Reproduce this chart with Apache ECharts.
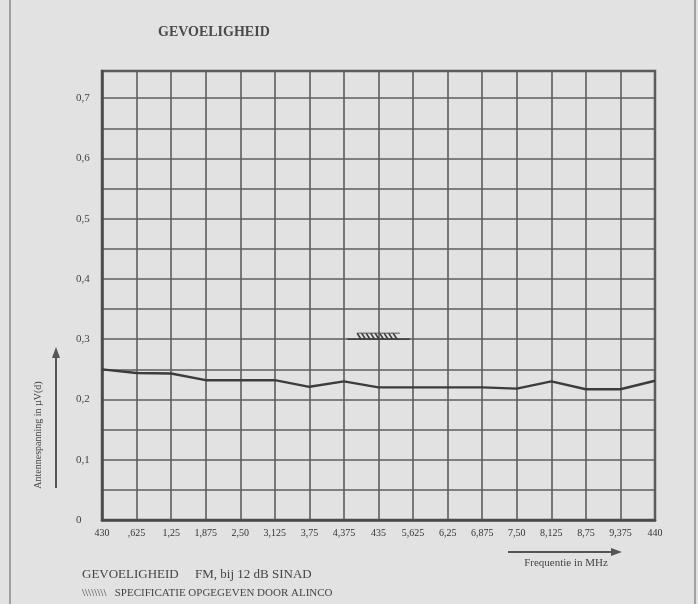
<!DOCTYPE html>
<html>
<head>
<meta charset="utf-8">
<script src="https://cdn.jsdelivr.net/npm/echarts@6/dist/echarts.min.js"></script>
<style>
  html, body { margin: 0; padding: 0; background: #e2e2e2; }
  #chart { width: 698px; height: 604px; }
</style>
</head>
<body>
<div id="chart"></div>
<script>
// frequentie-stappen (430 .. 440 MHz, 0,625 MHz per hokje)
var xLabels = ['430', ',625', '1,25', '1,875', '2,50', '3,125', '3,75', '4,375', '435',
  '5,625', '6,25', '6,875', '7,50', '8,125', '8,75', '9,375', '440'];
var yLabels = ['0', '0,1', '0,2', '0,3', '0,4', '0,5', '0,6', '0,7'];
// gemeten gevoeligheid in uV per frequentiestap
var sensValues = [0.25, 0.244, 0.243, 0.232, 0.232, 0.232, 0.221, 0.23, 0.22,
  0.22, 0.22, 0.22, 0.218, 0.23, 0.217, 0.217, 0.231];
// specificatie Alinco (gearceerd blokje)
var specX = [7.38, 8.62];
var specLineX = [7.1, 8.9];
var specY = [0.3, 0.31];

var serif = '"Liberation Serif", "DejaVu Serif", serif';
var ink = '#3c3c3c';

var chart = echarts.init(document.getElementById('chart'));

var lineData = sensValues.map(function (v, i) { return [i, v]; });

var option = {
  backgroundColor: '#e2e2e2',
  animation: false,
  grid: {
    left: 102, right: 43, top: 71, bottom: 84,
    show: true, borderColor: '#555', borderWidth: 2.5, backgroundColor: 'transparent'
  },
  xAxis: {
    type: 'value', min: 0, max: 16, interval: 1,
    axisLine: { show: true, lineStyle: { color: '#4a4a4a', width: 2.5 } },
    axisTick: { show: false },
    splitLine: { show: true, lineStyle: { color: '#5e5e5e', width: 1.6 } },
    axisLabel: {
      margin: 8, fontFamily: serif, fontSize: 10, color: '#333',
      formatter: function (v) { return xLabels[v] || ''; }
    }
  },
  yAxis: {
    type: 'value', min: 0, max: 0.745, interval: 0.05,
    axisLine: { show: true, lineStyle: { color: '#4a4a4a', width: 2.5 } },
    axisTick: { show: false },
    splitLine: { show: true, lineStyle: { color: '#5e5e5e', width: 1.6 } },
    axisLabel: {
      margin: 26, align: 'left', fontFamily: serif, fontSize: 11, color: '#444',
      formatter: function (v) {
        var n = Math.round(v * 100);
        if (n % 10 !== 0) return '';
        return yLabels[n / 10] || '';
      }
    }
  },
  series: [
    {
      type: 'line',
      data: lineData,
      symbol: 'none',
      lineStyle: { color: ink, width: 2.4 },
      z: 5
    },
    {
      type: 'custom',
      data: [[specX[0], specX[1], specY[0], specY[1], specLineX[0], specLineX[1]]],
      encode: { x: [0, 1], y: [2, 3] },
      renderItem: function (params, api) {
        var p0 = api.coord([api.value(0), api.value(2)]);
        var p1 = api.coord([api.value(1), api.value(3)]);
        var b0 = api.coord([api.value(4), api.value(2)]);
        var b1 = api.coord([api.value(5), api.value(2)]);
        var children = [{
          type: 'line',
          shape: { x1: b0[0], y1: b0[1], x2: b1[0], y2: b1[1] },
          style: { stroke: '#444', lineWidth: 1.8 }
        }];
        var step = 4.5;
        for (var x = p0[0]; x + 4 <= p1[0]; x += step) {
          children.push({
            type: 'line',
            shape: { x1: x, y1: p1[1], x2: x + 4, y2: p0[1] },
            style: { stroke: '#3a3a3a', lineWidth: 1.6 }
          });
        }
        children.push({
          type: 'line',
          shape: { x1: p0[0], y1: p1[1], x2: p1[0], y2: p1[1] },
          style: { stroke: '#555', lineWidth: 1 }
        });
        return { type: 'group', children: children };
      },
      z: 6
    }
  ],
  graphic: [
    // paginaranden
    { type: 'line', shape: { x1: 10, y1: 0, x2: 10, y2: 604 }, style: { stroke: '#8a8a8a', lineWidth: 1.5 } },
    { type: 'line', shape: { x1: 695, y1: 0, x2: 695, y2: 604 }, style: { stroke: '#8a8a8a', lineWidth: 1.5 } },
    // titel
    { type: 'text', left: 158, top: 25, style: { text: 'GEVOELIGHEID', font: 'bold 14px ' + serif, fill: '#4a4a4a' } },
    // y-as naam en pijl
    {
      type: 'text', x: 38, y: 435, rotation: Math.PI / 2,
      style: { text: 'Antennespanning in µV(d)', font: '10px ' + serif, fill: '#444', textAlign: 'center', textVerticalAlign: 'middle' }
    },
    { type: 'line', shape: { x1: 56, y1: 488, x2: 56, y2: 356 }, style: { stroke: '#555', lineWidth: 2 } },
    { type: 'polygon', shape: { points: [[56, 347], [52, 358], [60, 358]] }, style: { fill: '#555' } },
    // x-as pijl en naam
    { type: 'line', shape: { x1: 508, y1: 552, x2: 612, y2: 552 }, style: { stroke: '#555', lineWidth: 2 } },
    { type: 'polygon', shape: { points: [[622, 552], [611, 548], [611, 556]] }, style: { fill: '#555' } },
    {
      type: 'text', x: 566, y: 563,
      style: { text: 'Frequentie in MHz', font: '11px ' + serif, fill: '#444', textAlign: 'center', textVerticalAlign: 'middle' }
    },
    // onderschriften
    {
      type: 'text', x: 82, y: 575,
      style: { text: 'GEVOELIGHEID     FM, bij 12 dB SINAD', font: '13px ' + serif, fill: '#444', textVerticalAlign: 'middle' }
    },
    {
      type: 'text', x: 82, y: 593,
      style: { text: '\\\\\\\\\\\\\\\\   SPECIFICATIE OPGEGEVEN DOOR ALINCO', font: '11px ' + serif, fill: '#444', textVerticalAlign: 'middle' }
    }
  ]
};

chart.setOption(option);
</script>
</body>
</html>
